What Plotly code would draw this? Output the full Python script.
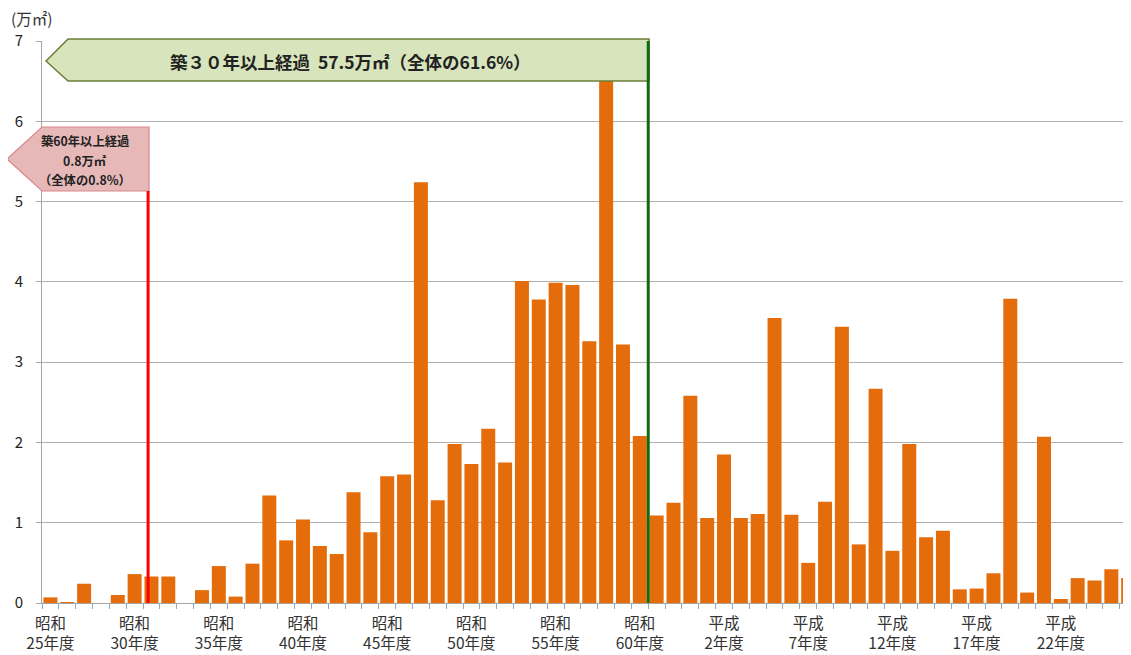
import plotly.graph_objects as go

# ---- data ----
years = list(range(64 + 1))  # category index: 0 = 昭和25年度 ... 64
values = [0.07, 0.01, 0.24, 0.0, 0.10, 0.36, 0.33, 0.33, 0.0, 0.16,
          0.46, 0.08, 0.49, 1.34, 0.78, 1.04, 0.71, 0.61, 1.38, 0.88,
          1.58, 1.60, 5.24, 1.28, 1.98, 1.73, 2.17, 1.75, 4.01, 3.78,
          3.99, 3.96, 3.26, 6.70, 3.22, 2.08, 1.09, 1.25, 2.58, 1.06,
          1.85, 1.06, 1.11, 3.55, 1.10, 0.50, 1.26, 3.44, 0.73, 2.67,
          0.65, 1.98, 0.82, 0.90, 0.17, 0.18, 0.37, 3.79, 0.13, 2.07,
          0.05, 0.31, 0.28, 0.42, 0.31]
label_pos = [0, 5, 10, 15, 20, 25, 30, 35, 40, 45, 50, 55, 60]
label_text = ["昭和<br>25年度", "昭和<br>30年度", "昭和<br>35年度", "昭和<br>40年度",
              "昭和<br>45年度", "昭和<br>50年度", "昭和<br>55年度", "昭和<br>60年度",
              "平成<br>2年度", "平成<br>7年度", "平成<br>12年度", "平成<br>17年度",
              "平成<br>22年度"]
y_ticks = [0, 1, 2, 3, 4, 5, 6, 7]
unit_label = "(万㎡)"
banner30 = "築３０年以上経過  57.5万㎡（全体の61.6%）"
banner60 = ["築60年以上経過", "0.8万㎡", "（全体の0.8%）"]
line30_x = 35.5
line60_x = 5.8

FONT = "Noto Sans CJK JP"
OFF = 8  # page body margin
PW_, PH_ = 1131, 655
W, H = PW_ - OFF, PH_ - OFF
# plot area in page pixels: x 42..1131, y 41..603
L, T = 42 - OFF, 41 - OFF
R = 0
B = H - (603 - OFF)
pw, ph = W - L - R, H - T - B
step = 16.84
xr = [-0.5, -0.5 + pw / step]


def px(x):  # page pixel -> paper
    return (x - OFF - L) / pw


def py(y):
    return (H - B - (y - OFF)) / ph


fig = go.Figure()
fig.add_trace(go.Bar(x=years, y=values, marker_color="#E46C0A",
                     marker_line_width=0, hoverinfo="x+y"))

shapes = []
# green banner (築30年)
gx = [46, 68, 649, 649, 68]
gy = [61, 39, 39, 81, 81]
path = "M " + " L ".join(f"{px(a):.5f},{py(b):.5f}" for a, b in zip(gx, gy)) + " Z"
shapes.append(dict(type="path", xref="paper", yref="paper", path=path,
                   fillcolor="#D8E4BC", line=dict(color="#6B7F3A", width=1.5),
                   layer="above"))
# pink banner (築60年)
rx = [7, 42, 149, 149, 42]
ry = [159, 127, 127, 191, 191]
path = "M " + " L ".join(f"{px(a):.5f},{py(b):.5f}" for a, b in zip(rx, ry)) + " Z"
shapes.append(dict(type="path", xref="paper", yref="paper", path=path,
                   fillcolor="#E6B9B8", line=dict(color="#D9888A", width=1.2),
                   layer="above"))
# vertical lines
shapes.append(dict(type="line", xref="x", yref="y", x0=line30_x, x1=line30_x,
                   y0=0, y1=7, line=dict(color="#0E6B0E", width=3), layer="above"))
shapes.append(dict(type="line", xref="x", yref="paper", x0=line60_x, x1=line60_x,
                   y0=0, y1=py(191), line=dict(color="#FF0000", width=3), layer="above"))

annotations = [
    dict(text=unit_label, xref="paper", yref="paper", x=px(9), y=py(18),
         xanchor="left", yanchor="middle", showarrow=False,
         font=dict(family=FONT, size=15.5, color="#333333")),
    dict(text=f"<b>{banner30}</b>", xref="paper", yref="paper", x=px(350), y=py(61),
         xanchor="center", yanchor="middle", showarrow=False,
         font=dict(family=FONT, size=17.5, color="#222222")),
]
for t, yy in zip(banner60, [141, 161, 180]):
    annotations.append(dict(text=f"<b>{t}</b>", xref="paper", yref="paper",
                            x=px(85), y=py(yy), xanchor="center", yanchor="middle",
                            showarrow=False,
                            font=dict(family=FONT, size=12.3, color="#222222")))

fig.update_layout(
    width=W, height=H,
    margin=dict(l=L, r=R, t=T, b=B, pad=0),
    paper_bgcolor="white", plot_bgcolor="white",
    bargap=0.17, showlegend=False,
    font=dict(family=FONT, size=15, color="#333333"),
    shapes=shapes, annotations=annotations,
    xaxis=dict(range=xr, tickmode="array", tickvals=label_pos, ticktext=label_text,
               ticks="", showgrid=False, zeroline=False,
               showline=True, linecolor="#A6A6A6", linewidth=1,
               tickfont=dict(family=FONT, size=15.5, color="#333333"),
               ticklabelstandoff=6,
               minor=dict(tickmode="array",
                          tickvals=[i - 0.5 for i in years],
                          ticks="outside", ticklen=5, tickcolor="#8EA9C8",
                          tickwidth=1, showgrid=False)),
    yaxis=dict(range=[0, 7], tickmode="array", tickvals=y_ticks,
               showgrid=True, gridcolor="#B0B0B0", gridwidth=1,
               zeroline=False, showline=True, linecolor="#A6A6A6", linewidth=1,
               ticks="outside", ticklen=5, tickcolor="#A6A6A6",
               ticklabelstandoff=10,
               tickfont=dict(family=FONT, size=15, color="#222222")),
)

fig.write_html("out.html")
